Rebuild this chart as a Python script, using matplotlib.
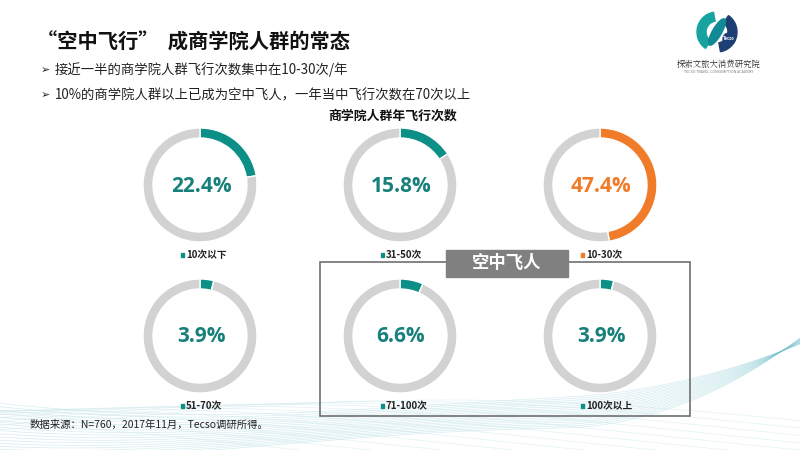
import numpy as np
import matplotlib
matplotlib.use("Agg")
import matplotlib.pyplot as plt
from matplotlib.patches import Rectangle, Wedge, Ellipse

plt.rcParams['font.family'] = ['Noto Sans CJK SC', 'DejaVu Sans']

# ---- data ----
categories = ['10次以下', '31-50次', '10-30次', '51-70次', '71-100次', '100次以上']
values = [22.4, 15.8, 47.4, 3.9, 6.6, 3.9]
highlight = ['10-30次']
title = '“空中飞行”  成商学院人群的常态'
bullets = ['接近一半的商学院人群飞行次数集中在10-30次/年',
           '10%的商学院人群以上已成为空中飞人，一年当中飞行次数在70次以上']
chart_title = '商学院人群年飞行次数'
group_label = '空中飞人'
source = '数据来源：N=760，2017年11月，Tecso调研所得。'

TEAL = '#0b8f86'
TEAL_TXT = '#17807a'
ORANGE = '#f07c2a'
GRAY = '#d2d2d2'

W, H = 800, 450
fig = plt.figure(figsize=(8, 4.5), dpi=100)
ax = fig.add_axes([0, 0, 1, 1])
ax.set_xlim(0, W)
ax.set_ylim(0, H)
ax.axis('off')


def Y(py):
    return H - py

# decorative waves at the bottom
xs = np.linspace(0, W, 300)
for i in range(18):
    ys = 395 + 2.2 * i + 28 * np.sin((xs / W) * np.pi * 1.15 + 0.3 + 0.05 * i) * (1 - xs / W) \
         - 85 * np.clip((xs - 560) / 240, 0, 1) ** 2 * (0.6 + 0.03 * i)
    ax.plot(xs, Y(ys), color='#6cbfcb', lw=0.5, alpha=0.28, zorder=0)
for i in range(12):
    ys = 430 + 1.5 * i - 30 * np.sin((xs / W) * np.pi * 0.9 + 0.2 * i)
    ax.plot(xs, Y(ys), color='#c3e3e6', lw=0.5, alpha=0.45, zorder=0)

# title and bullets
ax.text(37, Y(42), title, fontsize=14.6, fontweight='bold', color='#111111',
        va='center', ha='left')
for i, b in enumerate(bullets):
    yy = Y(70 + i * 25)
    ax.text(41, yy, '➢', fontsize=8, color='#222222', va='center', ha='left',
            family=['DejaVu Sans'])
    ax.text(55, yy, b, fontsize=9.6, color='#222222', va='center', ha='left')
ax.text(393, Y(116), chart_title, fontsize=9.3, fontweight='bold', color='#111111',
        va='center', ha='center')

# logo (approximation)
lx, ly0 = 717, Y(32)
ax.add_patch(Wedge((lx, ly0), 20, 100, 235, width=9, color='#17a3a0', zorder=3))
ax.add_patch(Wedge((lx, ly0), 20, 280, 55, width=9, color='#1d3f73', zorder=3))
ax.add_patch(Ellipse((lx, ly0), 30, 9, angle=60, color='#128a96', zorder=3))
ax.add_patch(Wedge((lx + 12, ly0 - 7), 6, 0, 360, color='#1d3f73', zorder=4))
ax.text(lx + 12, ly0 - 7, 'Tecso', fontsize=3, color='white', ha='center', va='center',
        fontweight='bold', zorder=5)
ax.text(719, Y(64), '探索文旅大消费研究院', fontsize=6, color='#333333', ha='center',
        va='center', family=['Noto Serif CJK SC', 'Noto Sans CJK SC'])
ax.text(719, Y(72), 'TECSO TRAVEL CONSUMPTION ACADEMY', fontsize=2.6, color='#777777',
        ha='center', va='center')

# donuts
centers = [(200, 185), (400, 185), (600, 185), (200, 336), (400, 336), (600, 336)]
R, RW = 57, 10
for (cx, cy), cat, v in zip(centers, categories, values):
    col = ORANGE if cat in highlight else TEAL
    tcol = ORANGE if cat in highlight else TEAL_TXT
    ax.pie([v, 100 - v], colors=[col, GRAY], startangle=90, counterclock=False,
           center=(cx, Y(cy)), radius=R, frame=True,
           wedgeprops=dict(width=RW, edgecolor='white', linewidth=1.0))
    ax.text(cx + 1, Y(cy + 1), f'{v}%', fontsize=15, fontweight='bold', color=tcol,
            ha='center', va='center', family=['Open Sans', 'DejaVu Sans'])
    lyy = Y(cy + 70)
    ax.text(cx - 14, lyy, cat, fontsize=7, fontweight='bold', color='#222222',
            ha='left', va='center')
    ax.add_patch(Rectangle((cx - 19, lyy - 1.6), 3.2, 3.2, color=col))

ax.set_xlim(0, W)
ax.set_ylim(0, H)
ax.set_aspect('auto')
ax.axis('off')

# group box
ax.add_patch(Rectangle((320, Y(416)), 370, 154, fill=False, edgecolor='#707070',
                       lw=1.2, zorder=2))
ax.add_patch(Rectangle((446, Y(277)), 122, 27, color='#808080', zorder=3))
ax.text(507, Y(263.5), group_label, fontsize=12.5, fontweight='bold', color='white',
        ha='center', va='center', zorder=4)

ax.text(30, Y(425), source, fontsize=7.5, color='#222222', ha='left', va='center')

fig.savefig('out.png', dpi=100)
